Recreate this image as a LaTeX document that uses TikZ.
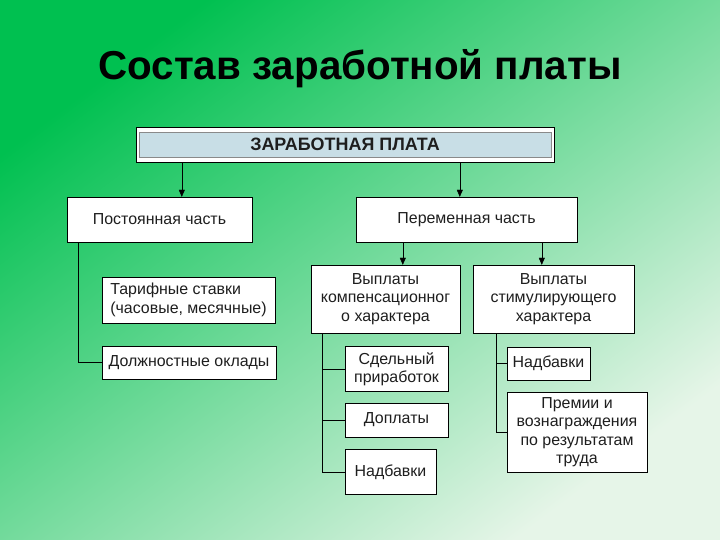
\documentclass[tikz,border=0pt]{standalone}
\usepackage{fontspec}
\setmainfont{Liberation Sans}
\usetikzlibrary{positioning,arrows.meta,calc}
\definecolor{BgGreen}{HTML}{00C050}
\definecolor{BgMid}{HTML}{A4E2B2}
\definecolor{BgPale}{HTML}{E6F5E8}
\definecolor{BarBlue}{HTML}{C8DEE6}
\definecolor{BarEdge}{HTML}{8A8A8A}
\definecolor{TextGray}{HTML}{1E1E1E}

\begin{document}
\begin{tikzpicture}[x=1bp, y=-1bp,
  every node/.style={font=\fontsize{16}{18.5}\selectfont, text=TextGray},
  box/.style={draw, fill=white, inner sep=2bp, align=center},
  leftbox/.style={draw, fill=white, inner xsep=6bp, inner ysep=2bp, align=left},
  arr/.style={-{Triangle[length=7bp,width=6bp]}}]
% background
\shade[top color=BgGreen, middle color=BgMid, bottom color=BgPale, shading angle=37] (0,0) rectangle (720,540);
\useasboundingbox (0,0) rectangle (720,540);
\node[font=\fontsize{40.5}{42}\selectfont\bfseries, text=black] (title) at (360,69) {Состав заработной платы};
% top block
\node[box, minimum width=418bp, minimum height=35bp] (salary) at (345,144.5) {};
\node[draw=BarEdge, fill=BarBlue, minimum width=412bp, minimum height=25bp, inner sep=0pt,
  font=\fontsize{18}{20}\selectfont\bfseries] (salarybar) at (345,144.5) {ЗАРАБОТНАЯ ПЛАТА};
\node[box, minimum width=185bp, minimum height=45bp] (fixed) at (159.5,219.5) {Постоянная часть};
\node[box, minimum width=221bp, minimum height=45bp] (variable) at (466.5,219.5) {Переменная часть};
% fixed part
\node[leftbox, minimum width=173bp, minimum height=46bp] (tariff) at (188.5,300) {Тарифные ставки\\(часовые, месячные)};
\node[leftbox, minimum width=174bp, minimum height=33bp] (official) at (189,362.5) {Должностные оклады};
% variable part
\node[box, minimum width=149bp, minimum height=68bp] (comp) at (385.5,299) {Выплаты\\компенсационног\\о характера};
\node[box, minimum width=161bp, minimum height=68bp] (stim) at (553.5,299) {Выплаты\\стимулирующего\\характера};
\node[box, minimum width=103bp, minimum height=45bp] (piece) at (396.5,369) {Сдельный\\приработок};
\node[box, minimum width=103bp, minimum height=34bp] (extra) at (396.5,420) {Доплаты};
\node[box, minimum width=91bp, minimum height=45bp] (bonusa) at (390.5,472) {Надбавки};
\node[box, minimum width=83bp, minimum height=33bp] (bonusb) at (548.5,363.5) {Надбавки};
\node[box, minimum width=140bp, minimum height=80bp] (premium) at (577,432) {Премии и\\вознаграждения\\по результатам\\труда};
% arrows
\coordinate (fixedin) at ($(fixed.north west)+(115,0)$);
\coordinate (varin) at ($(variable.north west)+(104,0)$);
\coordinate (compin) at ($(variable.south west)+(47,0)$);
\coordinate (stimin) at ($(variable.south west)+(186,0)$);
\draw[arr] (salary.south -| fixedin) -- (fixedin);
\draw[arr] (salary.south -| varin) -- (varin);
\draw[arr] (compin) -- (comp.north -| compin);
\draw[arr] (stimin) -- (stim.north -| stimin);
% trees
\coordinate (fixtrunk) at ($(fixed.south west)+(11,0)$);
\coordinate (comptrunk) at ($(comp.south west)+(11,0)$);
\coordinate (stimtrunk) at ($(stim.south west)+(23,0)$);
\draw (fixtrunk) |- (official.west);
\draw (comptrunk) |- (bonusa.west);
\draw (piece.west) -- (piece.west -| comptrunk);
\draw (extra.west) -- (extra.west -| comptrunk);
\draw (stimtrunk) |- (premium.west);
\draw (bonusb.west) -- (bonusb.west -| stimtrunk);
\end{tikzpicture}
\end{document}
